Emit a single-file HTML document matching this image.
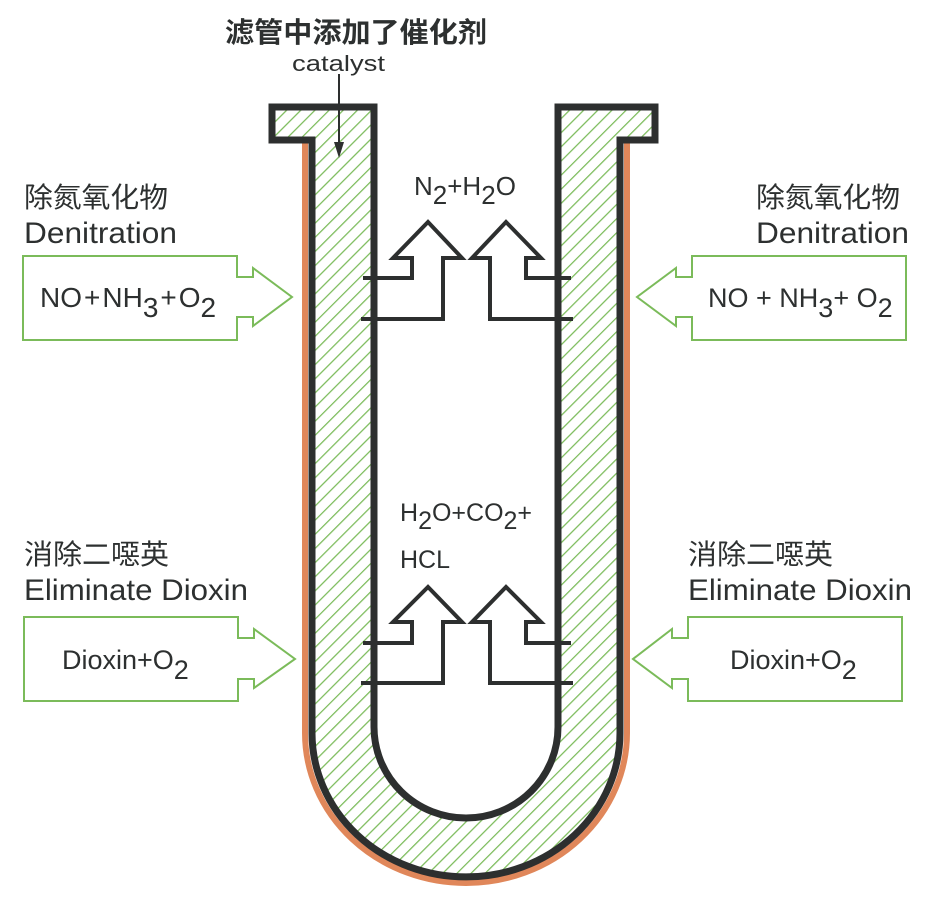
<!DOCTYPE html>
<html><head><meta charset="utf-8"><style>
html,body{margin:0;padding:0;background:#fff;}
svg{display:block;}
text{font-family:"Liberation Sans","Noto Sans CJK SC",sans-serif;fill:#2d3030;}
</style></head><body>
<svg width="939" height="909" viewBox="0 0 939 909" xmlns="http://www.w3.org/2000/svg">
<defs>
<pattern id="h" width="10" height="10" patternUnits="userSpaceOnUse" patternTransform="rotate(45)">
<rect width="10" height="10" fill="#fff"/>
<line x1="0" y1="0" x2="0" y2="10" stroke="#7bbb5a" stroke-width="2.5"/>
</pattern>
</defs>
<path d="M305,143 V733 A161,150 0 0 0 627,733 V143" fill="none" stroke="#e0875a" stroke-width="6"/>
<path d="M272,107 H374 V727 A92,91 0 0 0 558,727 V107 H655 V140 H620 V733 A154,144 0 0 1 312,733 V140 H272 Z" fill="url(#h)" stroke="#2d2f2f" stroke-width="7" stroke-linejoin="miter"/>
<g fill="none" stroke="#2d2f2f" stroke-width="4" stroke-linejoin="miter">
<path d="M363,278 H412 V258 H393 L428,222 L462,258 H443 V319 H361"/>
<path d="M571,278 H526 V258 H541 L506,222 L472,258 H490 V319 H573"/>
<path d="M363,643 H412 V622 H393 L428,587 L462,622 H443 V683 H361"/>
<path d="M571,643 H526 V622 H541 L506,587 L472,622 H490 V683 H573"/>
</g>
<line x1="339" y1="74" x2="339" y2="145" stroke="#2d2f2f" stroke-width="2"/>
<path d="M334,142 L339,158 L344,142 Z" fill="#2d2f2f"/>
<g fill="#fff" stroke="#7bbb5a" stroke-width="2">
<path d="M23,256 H237 V277 H253 V268 L292,297 L253,326 V317 H237 V340 H23 Z"/>
<path d="M906,256 H692 V277 H676 V268 L637,297 L676,326 V317 H692 V340 H906 Z"/>
<path d="M24,617 H238 V638 H254 V629 L295,659 L254,688 V679 H238 V701 H24 Z"/>
<path d="M902,617 H688 V638 H672 V629 L633,659 L672,688 V679 H688 V701 H902 Z"/>
</g>
<text x="225" y="42" font-size="28" font-weight="bold" textLength="262" lengthAdjust="spacingAndGlyphs">滤管中添加了催化剂</text>
<text x="292" y="71" font-size="22" textLength="93" lengthAdjust="spacingAndGlyphs">catalyst</text>
<text x="414" y="195" font-size="26">N<tspan dy="9">2</tspan><tspan dy="-9">+H</tspan><tspan dy="9">2</tspan><tspan dy="-9">O</tspan></text>
<text x="400" y="521" font-size="25">H<tspan dy="8">2</tspan><tspan dy="-8">O+CO</tspan><tspan dy="8">2</tspan><tspan dy="-8">+</tspan></text>
<text x="400" y="568" font-size="25">HCL</text>
<text x="24" y="207" font-size="28" textLength="144" lengthAdjust="spacingAndGlyphs">除氮氧化物</text>
<text x="24" y="243" font-size="30" textLength="153" lengthAdjust="spacingAndGlyphs">Denitration</text>
<text x="756" y="207" font-size="28" textLength="144" lengthAdjust="spacingAndGlyphs">除氮氧化物</text>
<text x="756" y="243" font-size="30" textLength="153" lengthAdjust="spacingAndGlyphs">Denitration</text>
<text x="24" y="564" font-size="28" textLength="145" lengthAdjust="spacingAndGlyphs">消除二噁英</text>
<text x="24" y="600" font-size="30" textLength="224" lengthAdjust="spacingAndGlyphs">Eliminate Dioxin</text>
<text x="688" y="564" font-size="28" textLength="145" lengthAdjust="spacingAndGlyphs">消除二噁英</text>
<text x="688" y="600" font-size="30" textLength="224" lengthAdjust="spacingAndGlyphs">Eliminate Dioxin</text>
<text x="40" y="307" font-size="28">NO<tspan dx="2">+</tspan><tspan dx="2">NH</tspan><tspan dy="10">3</tspan><tspan dy="-10" dx="2">+</tspan><tspan dx="2">O</tspan><tspan dy="10">2</tspan></text>
<text x="708" y="307" font-size="27">NO + NH<tspan dy="10">3</tspan><tspan dy="-10">+ O</tspan><tspan dy="10">2</tspan></text>
<text x="62" y="669" font-size="27">Dioxin+O<tspan dy="10">2</tspan></text>
<text x="730" y="669" font-size="27">Dioxin+O<tspan dy="10">2</tspan></text>
</svg>
</body></html>
